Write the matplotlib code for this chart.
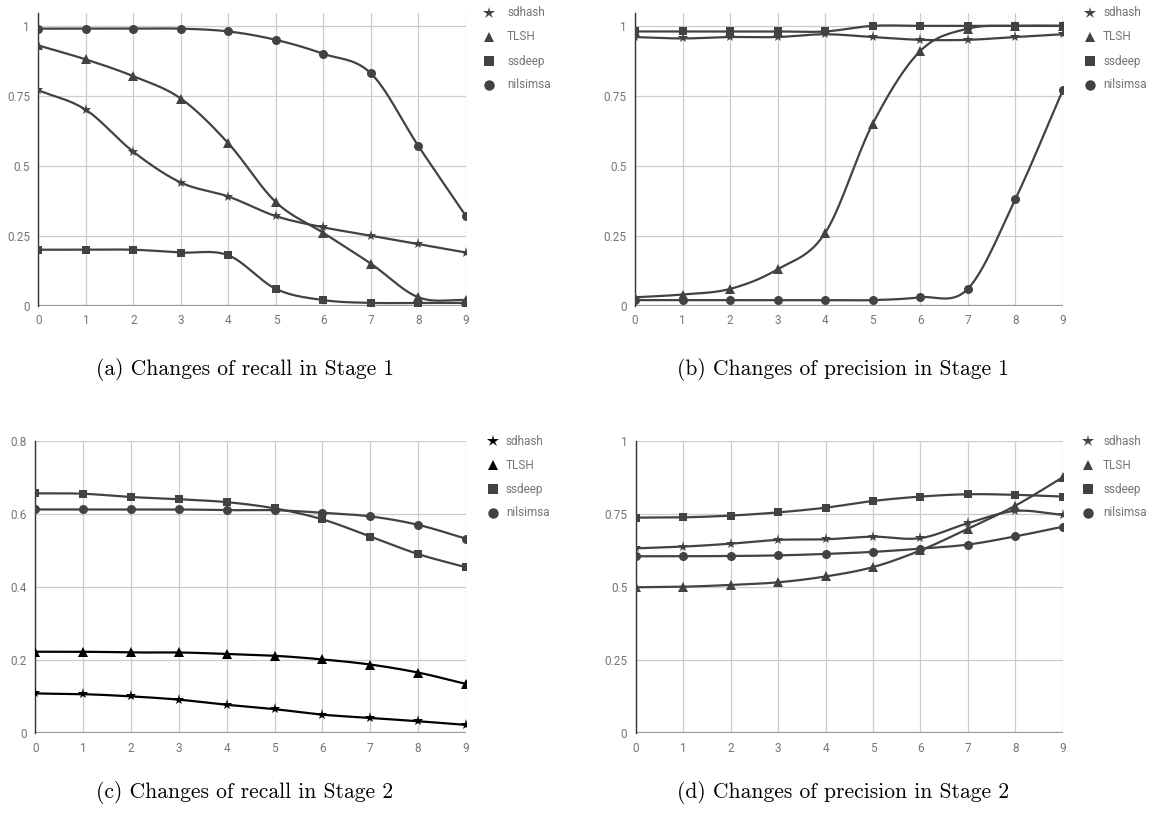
import numpy as np
import matplotlib
matplotlib.use("Agg")
import matplotlib.pyplot as plt
from matplotlib.lines import Line2D

# ---- data ---------------------------------------------------------------
steps = list(range(10))
series_names = ["sdhash", "TLSH", "ssdeep", "nilsimsa"]

recall_s1_sdhash = [0.77, 0.70, 0.55, 0.44, 0.39, 0.32, 0.28, 0.25, 0.22, 0.19]
recall_s1_tlsh = [0.93, 0.88, 0.82, 0.74, 0.58, 0.37, 0.26, 0.15, 0.03, 0.02]
recall_s1_ssdeep = [0.20, 0.20, 0.20, 0.19, 0.18, 0.06, 0.02, 0.01, 0.01, 0.01]
recall_s1_nilsimsa = [0.99, 0.99, 0.99, 0.99, 0.98, 0.95, 0.90, 0.83, 0.57, 0.32]

precision_s1_sdhash = [0.96, 0.955, 0.96, 0.96, 0.97, 0.96, 0.95, 0.95, 0.96, 0.97]
precision_s1_tlsh = [0.03, 0.04, 0.06, 0.13, 0.26, 0.65, 0.91, 0.99, 1.00, 1.00]
precision_s1_ssdeep = [0.98, 0.98, 0.98, 0.98, 0.98, 1.00, 1.00, 1.00, 1.00, 1.00]
precision_s1_nilsimsa = [0.02, 0.02, 0.02, 0.02, 0.02, 0.02, 0.03, 0.06, 0.38, 0.77]

recall_s2_sdhash = [0.109, 0.107, 0.101, 0.092, 0.078, 0.066, 0.051, 0.042, 0.033, 0.023]
recall_s2_tlsh = [0.223, 0.223, 0.221, 0.221, 0.217, 0.212, 0.202, 0.188, 0.166, 0.135]
recall_s2_ssdeep = [0.656, 0.655, 0.646, 0.640, 0.632, 0.615, 0.585, 0.538, 0.490, 0.454]
recall_s2_nilsimsa = [0.612, 0.612, 0.612, 0.612, 0.610, 0.610, 0.603, 0.593, 0.570, 0.532]

precision_s2_sdhash = [0.632, 0.638, 0.648, 0.661, 0.663, 0.672, 0.667, 0.718, 0.760, 0.746]
precision_s2_tlsh = [0.499, 0.501, 0.507, 0.516, 0.536, 0.568, 0.625, 0.699, 0.778, 0.875]
precision_s2_ssdeep = [0.737, 0.738, 0.744, 0.755, 0.771, 0.794, 0.809, 0.817, 0.815, 0.809]
precision_s2_nilsimsa = [0.605, 0.605, 0.606, 0.608, 0.613, 0.620, 0.631, 0.645, 0.673, 0.706]

x_ticks = list(range(10))
y_ticks_unit = [0, 0.25, 0.5, 0.75, 1]
y_tick_labels_unit = ["0", "0.25", "0.5", "0.75", "1"]
y_ticks_recall2 = [0, 0.2, 0.4, 0.6, 0.8]
y_tick_labels_recall2 = ["0", "0.2", "0.4", "0.6", "0.8"]

captions = [
    "(a) Changes of recall in Stage 1",
    "(b) Changes of precision in Stage 1",
    "(c) Changes of recall in Stage 2",
    "(d) Changes of precision in Stage 2",
]

# ---- styling ------------------------------------------------------------
W, H = 1157, 813
DARK = "#424242"
BLACK = "#000000"
GRID = "#cccccc"
TICK = "#757575"
MARKERS = {"sdhash": "*", "TLSH": "^", "ssdeep": "s", "nilsimsa": "o"}
MSIZE = {"sdhash": 8.0, "TLSH": 6.5, "ssdeep": 5.5, "nilsimsa": 6.5}


def smooth(xs, ys, n=30):
    """Catmull-Rom style cubic Hermite curve through the points."""
    xs = np.asarray(xs, float)
    ys = np.asarray(ys, float)
    m = np.empty_like(ys)
    m[1:-1] = (ys[2:] - ys[:-2]) / (xs[2:] - xs[:-2])
    m[0] = (ys[1] - ys[0]) / (xs[1] - xs[0])
    m[-1] = (ys[-1] - ys[-2]) / (xs[-1] - xs[-2])
    out_x, out_y = [], []
    for i in range(len(xs) - 1):
        h = xs[i + 1] - xs[i]
        t = np.linspace(0, 1, n, endpoint=False)
        h00 = 2 * t**3 - 3 * t**2 + 1
        h10 = t**3 - 2 * t**2 + t
        h01 = -2 * t**3 + 3 * t**2
        h11 = t**3 - t**2
        out_x.append(xs[i] + t * h)
        out_y.append(h00 * ys[i] + h10 * h * m[i] + h01 * ys[i + 1] + h11 * h * m[i + 1])
    out_x.append([xs[-1]])
    out_y.append([ys[-1]])
    return np.concatenate(out_x), np.concatenate(out_y)


def px_rect(left, right, top, bottom):
    return [left / W, 1 - bottom / H, (right - left) / W, (bottom - top) / H]


fig = plt.figure(figsize=(W / 100, H / 100), dpi=100)
fig.patch.set_facecolor("white")

panels = [
    dict(rect=px_rect(38.3, 466.0, 12.7, 305.7), ylim=(0, 1.047),
         yt=y_ticks_unit, ytl=y_tick_labels_unit,
         data=[recall_s1_sdhash, recall_s1_tlsh, recall_s1_ssdeep, recall_s1_nilsimsa],
         colors=[DARK, DARK, DARK, DARK], legend=(489, 507, 13)),
    dict(rect=px_rect(635.0, 1062.8, 12.7, 305.7), ylim=(0, 1.047),
         yt=y_ticks_unit, ytl=y_tick_labels_unit,
         data=[precision_s1_sdhash, precision_s1_tlsh, precision_s1_ssdeep, precision_s1_nilsimsa],
         colors=[DARK, DARK, DARK, DARK], legend=(1090, 1103, 13)),
    dict(rect=px_rect(35.3, 466.0, 440.7, 733.3), ylim=(0, 0.8),
         yt=y_ticks_recall2, ytl=y_tick_labels_recall2,
         data=[recall_s2_sdhash, recall_s2_tlsh, recall_s2_ssdeep, recall_s2_nilsimsa],
         colors=[BLACK, BLACK, DARK, DARK], legend=(493, 506, 441)),
    dict(rect=px_rect(635.7, 1062.8, 440.7, 733.3), ylim=(0, 1.0),
         yt=y_ticks_unit, ytl=y_tick_labels_unit,
         data=[precision_s2_sdhash, precision_s2_tlsh, precision_s2_ssdeep, precision_s2_nilsimsa],
         colors=[DARK, DARK, DARK, DARK], legend=(1088, 1103, 441)),
]

for p in panels:
    ax = fig.add_axes(p["rect"])
    ax.set_xlim(0, 9)
    ax.set_ylim(*p["ylim"])
    ax.set_xticks(x_ticks)
    ax.set_xticklabels([str(v) for v in x_ticks])
    ax.set_yticks(p["yt"])
    ax.set_yticklabels(p["ytl"])
    for s in ["top", "right", "bottom"]:
        ax.spines[s].set_visible(False)
    ax.spines["left"].set_color("#333333")
    ax.spines["left"].set_linewidth(1.0)
    ax.grid(True, color=GRID, linewidth=0.9)
    ax.set_axisbelow(True)
    ax.axhline(0, color="#999999", linewidth=1.6, zorder=1.5)
    ax.tick_params(length=0, labelsize=8.5, labelcolor=TICK, pad=6)
    for lab in ax.get_xticklabels() + ax.get_yticklabels():
        lab.set_family("Roboto")
    for name, ys, col in zip(series_names, p["data"], p["colors"]):
        sx, sy = smooth(steps, ys)
        ax.plot(sx, sy, color=col, linewidth=1.6, zorder=3, solid_capstyle="round")
        ax.plot(steps, ys, linestyle="none", marker=MARKERS[name],
                markersize=MSIZE[name], color=col, markeredgewidth=0, zorder=4)

    # legend column to the right of the plot
    mx, tx, y0 = p["legend"]
    for k, (name, col) in enumerate(zip(series_names, p["colors"])):
        yy = y0 + 24 * k
        fig.add_artist(Line2D([mx / W], [1 - yy / H], transform=fig.transFigure,
                              marker=MARKERS[name], markersize=MSIZE[name] + 1,
                              color=col, markeredgewidth=0, linestyle="none"))
        fig.text(tx / W, 1 - yy / H, name, fontsize=8.5, color=TICK,
                 family="Roboto", va="center", ha="left")

# panel captions
cap_pos = [(245, 369), (843, 369), (245, 792), (843, 792)]
for (cx, cy), txt in zip(cap_pos, captions):
    fig.text(cx / W, 1 - cy / H, txt, fontsize=15.5, family="cmr10",
             ha="center", va="center", color="black")

fig.savefig("out.png", dpi=100, facecolor="white")
